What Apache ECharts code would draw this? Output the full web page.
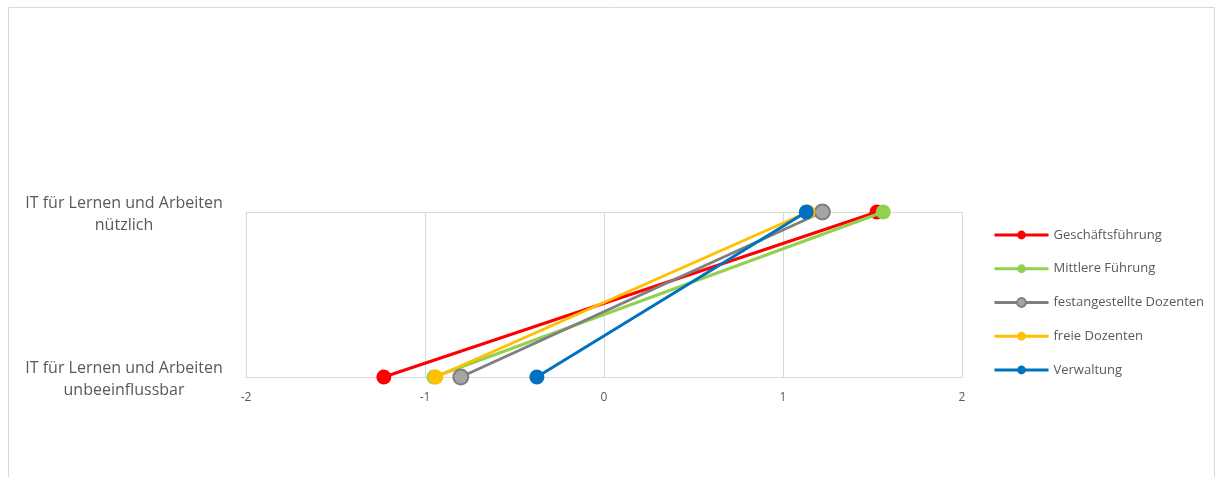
<!DOCTYPE html>
<html>
<head>
<meta charset="utf-8">
<script src="https://cdn.jsdelivr.net/npm/echarts@6/dist/echarts.min.js"></script>
<style>
  html, body { margin: 0; padding: 0; background: #fff; }
  #chart { width: 1218px; height: 477px; }
</style>
</head>
<body>
<div id="chart"></div>
<script>
// Two statements, bottom to top
const statements = [
  'IT für Lernen und Arbeiten\nunbeeinflussbar',
  'IT für Lernen und Arbeiten\nnützlich'
];

// Groups and their mean scores [unbeeinflussbar, nützlich]
const groupNames = ['Geschäftsführung', 'Mittlere Führung', 'festangestellte Dozenten', 'freie Dozenten', 'Verwaltung'];
const geschaeftsfuehrung = [-1.23, 1.525];
const mittlereFuehrung = [-0.95, 1.56];
const festeDozenten = [-0.80, 1.22];
const freieDozenten = [-0.94, 1.14];
const verwaltung = [-0.375, 1.13];

const xTicks = [-2, -1, 0, 1, 2];

const groupValues = [geschaeftsfuehrung, mittlereFuehrung, festeDozenten, freieDozenten, verwaltung];
const lineColors = ['#ff0000', '#92d050', '#7f7f7f', '#ffc000', '#0070c0'];
const markerFill = ['#ff0000', '#92d050', '#a5a5a5', '#ffc000', '#0070c0'];

const FONT = '"Open Sans", "Noto Sans", sans-serif';
const TEXT = '#595959';
const GRID = '#d9d9d9';

const chart = echarts.init(document.getElementById('chart'), null, { renderer: 'canvas' });

const series = groupNames.map((name, i) => ({
  name: name,
  type: 'line',
  data: groupValues[i].map((v, k) => [v, k]),
  symbol: 'circle',
  symbolSize: 15,
  showSymbol: true,
  lineStyle: { color: lineColors[i], width: 3 },
  itemStyle: {
    color: markerFill[i],
    borderColor: lineColors[i],
    borderWidth: i === 2 ? 2 : 0
  },
  emphasis: { disabled: true },
  z: 2 + i
}));

chart.setOption({
  animation: false,
  backgroundColor: '#ffffff',
  graphic: [{
    type: 'rect',
    shape: { x: 8.5, y: 7.5, width: 1206, height: 520 },
    style: { fill: 'none', stroke: GRID, lineWidth: 1 },
    silent: true,
    z: 0
  }],
  grid: { left: 246, right: 256, top: 212, bottom: 100, containLabel: false },
  xAxis: {
    type: 'value',
    min: xTicks[0],
    max: xTicks[xTicks.length - 1],
    interval: 1,
    axisLine: { show: true, lineStyle: { color: GRID, width: 1 } },
    axisTick: { show: false },
    splitLine: { show: true, lineStyle: { color: GRID, width: 1 } },
    axisLabel: { color: TEXT, fontSize: 12, fontFamily: FONT, margin: 15 }
  },
  yAxis: {
    type: 'category',
    data: statements,
    boundaryGap: false,
    axisLine: { show: false },
    axisTick: { show: false },
    splitLine: { show: true, lineStyle: { color: GRID, width: 1 } },
    axisLabel: {
      align: 'center',
      margin: 122,
      // top padding on each line keeps the two-line block a little below the tick
      formatter: (v) => {
        const parts = v.split('\n');
        return '{first|' + parts[0] + '}\n{rest|' + parts[1] + '}';
      },
      rich: {
        first: { color: TEXT, fontSize: 16, fontFamily: FONT, lineHeight: 21, padding: [4, 0, 0, 0] },
        rest: { color: TEXT, fontSize: 16, fontFamily: FONT, lineHeight: 21, padding: [5, 0, 0, 0] }
      }
    }
  },
  legend: {
    orient: 'vertical',
    left: 988,
    top: 223,
    itemWidth: 54,
    itemHeight: 11,
    itemGap: 19.75,
    data: groupNames,
    lineStyle: { width: 3 },
    textStyle: { color: TEXT, fontSize: 13, fontFamily: FONT, lineHeight: 14 }
  },
  series: series
});
</script>
</body>
</html>
